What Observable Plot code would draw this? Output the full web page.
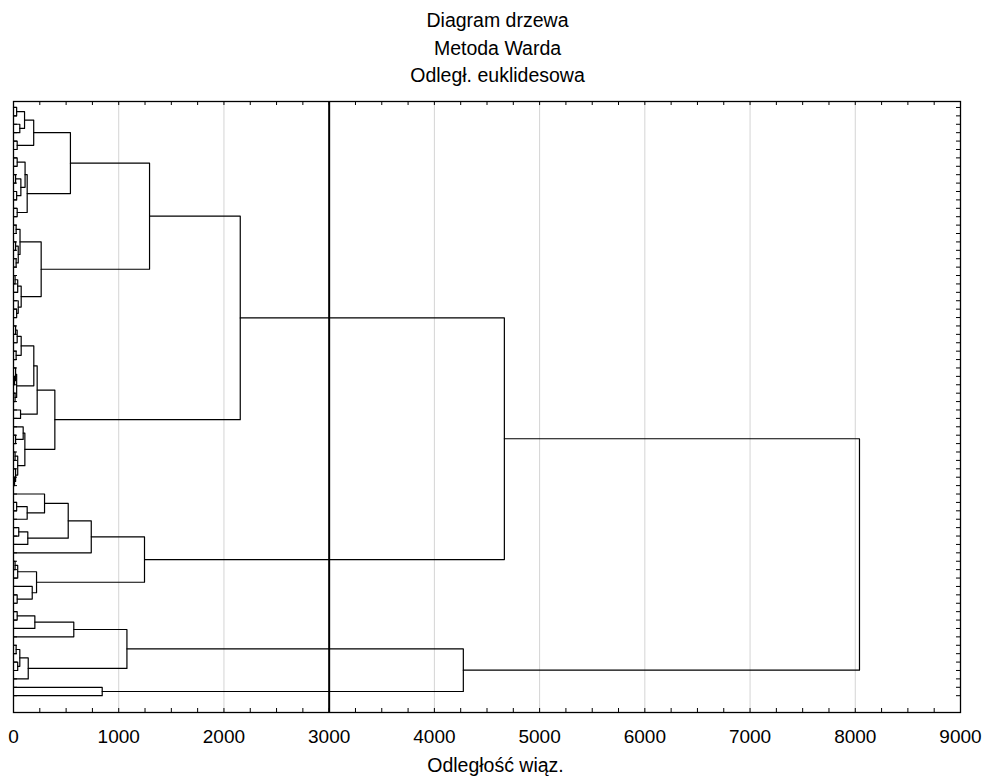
<!DOCTYPE html>
<html><head><meta charset="utf-8">
<script src="https://cdn.jsdelivr.net/npm/d3@7"></script>
<script src="https://cdn.jsdelivr.net/npm/@observablehq/plot@0.6"></script>
<style>body{margin:0;background:#fff;}</style>
</head><body><div id="chart"></div>
<script>
// ---- data ----
const leafCount = 71;
// linkage table: positive = leaf number (top to bottom), negative = earlier merge (-k = merge k)
const mergeLeft = [
  1,3,-1,5,-3,7,9,11,-7,-6,13,-10,-5,
  15,17,19,-15,-14,21,-19,25,24,-20,-18,-13,
  27,-26,30,-27,33,32,35,-31,-29,37,-34,40,39,42,45,44,-39,-38,-36,-25,
  48,-46,47,51,-49,-48,-51,55,-53,59,58,-54,-52,-45,
  61,-60,-61,65,67,-63,-65,-62,70,-67,-59
];
const mergeRight = [
  2,4,-2,6,-4,8,10,12,-8,-9,14,-11,-12,
  16,18,20,-16,-17,22,23,26,-21,-22,-23,-24,
  28,29,31,-28,34,-30,36,-32,-33,38,-35,41,-37,43,46,-40,-41,-42,-43,-44,
  49,50,-47,52,53,-50,54,56,57,60,-55,-56,-57,-58,
  62,63,64,66,68,-64,69,-66,71,-68,-69
];
const mergeHeight = [
  30,60,105,35,192,35,20,30,70,110,35,130,541,
  25,20,25,45,62,15,40,30,45,73,263,1293,
  20,35,25,73,10,20,15,30,193,67,225,20,92,15,10,20,40,108,393,2155,
  30,130,295,50,136,520,739,15,40,35,178,219,1245,4665,
  35,203,573,25,40,60,140,1078,843,4275,8040
];
const xTicks = [0,1000,2000,3000,4000,5000,6000,7000,8000,9000];
const gridValues = [1000,2000,4000,5000,6000,7000,8000];
const cutLevel = 3000;
const titleLines = ["Diagram drzewa", "Metoda Warda", "Odległ. euklidesowa"];
const xLabel = "Odległość wiąz.";

// ---- layout from linkage ----
const mPos = [], mH = [];
const pos = c => c > 0 ? c : mPos[-c - 1];
const hgt = c => c > 0 ? 0 : mH[-c - 1];
const segs = [];
mergeHeight.forEach((h, i) => {
  const l = mergeLeft[i], r = mergeRight[i];
  const pl = pos(l), pr = pos(r);
  segs.push({z: i, x: hgt(l), y: pl}, {z: i, x: h, y: pl}, {z: i, x: h, y: pr}, {z: i, x: hgt(r), y: pr});
  mPos.push((pl + pr) / 2);
  mH.push(h);
});
const leaves = d3.range(1, leafCount + 1);
const minorX = d3.range(0, 9001, 250);

const W = 994, H = 776, mL = 13, mR = 34, mT = 101, mB = 64;
const pw = W - mL - mR, ph = H - mT - mB;

const chart = Plot.plot({
  width: W, height: H,
  marginLeft: mL, marginRight: mR, marginTop: mT, marginBottom: mB,
  style: {fontFamily: "'Liberation Sans', Arial, sans-serif", fontSize: "18px", background: "white", color: "black"},
  x: {domain: [0, 9000], axis: null},
  y: {domain: [0.29, 73.0], reverse: true, axis: null},
  marks: [
    Plot.ruleX(gridValues, {stroke: "#d4d4d4", strokeWidth: 1}),
    Plot.line(segs, {x: "x", y: "y", z: "z", stroke: "black", strokeWidth: 1.2, curve: "linear"}),
    Plot.ruleX([cutLevel], {stroke: "black", strokeWidth: 2}),
    Plot.ruleX(minorX, {insetBottom: ph - 4, stroke: "black"}),
    Plot.ruleX(minorX, {insetTop: ph - 4, stroke: "black"}),
    Plot.ruleY(leaves, {insetRight: pw - 4, stroke: "black"}),
    Plot.ruleY(leaves, {insetLeft: pw - 4, stroke: "black"}),
    Plot.frame({stroke: "black", strokeWidth: 1.3}),
    Plot.axisX(xTicks, {anchor: "bottom", tickSize: 0, tickPadding: 17, tickFormat: d3.format("d"), fontSize: 19, label: null}),
    ...titleLines.map((t, i) => Plot.text([t], {frameAnchor: "top", dx: 10.5, dy: -88 + 27.5 * i, fontSize: 19.5, fill: "black"})),
    Plot.text([xLabel], {frameAnchor: "bottom", dx: 8.5, dy: 59, fontSize: 19.5, fill: "black"})
  ]
});
document.getElementById("chart").appendChild(chart);
</script>
</body></html>
